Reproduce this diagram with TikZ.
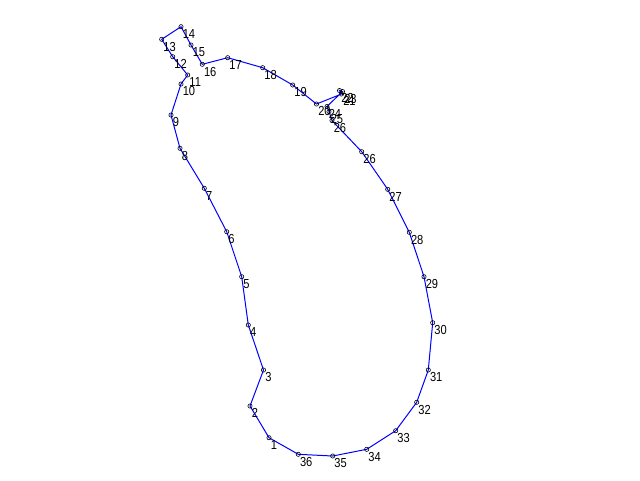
\documentclass[tikz,border=0pt]{standalone}
\usepackage{fontspec}
\setmainfont[FakeStretch=0.85]{Liberation Sans}
\begin{document}
\begin{tikzpicture}[x=0.75pt,y=-0.75pt,
  outline/.style={draw=blue,line width=0.75pt,line join=miter},
  marker/.style={circle,draw=black,line width=0.45pt,inner sep=0pt,minimum size=3.2pt},
  lbl/.style={anchor=north west,inner sep=0pt,font=\fontsize{9.8pt}{10pt}\selectfont,text=black}]
\useasboundingbox (0,0) rectangle (640,480);
\fill[white] (0,0) rectangle (640,480);
\foreach \n/\x/\y in {1/269/437.7,2/250/406,3/263.5/370,4/248.3/325,5/241.7/276.7,
  6/226.7/231.7,7/204.3/188.3,8/180/148.3,9/171/115,10/181/84,11/187.7/75,
  12/172.7/56.7,13/161.7/39.3,14/181/26.7,15/191/45,16/202.3/64.3,17/227.7/57.7,
  18/262.7/67.7,19/292.7/85,20/316.5/104,21/341.5/94,22/339.5/90.5,23/342.5/91.5,
  24/327/106.5,25/329/111.5,26/332/120.5,26b/361.7/151.7,27/387.7/189.3,
  28/409.3/232.3,29/424/276.7,30/432.7/322.7,31/428.3/370,32/416.7/402.3,
  33/395.7/430.7,34/366.7/449.3,35/332.7/456,36/298.3/454.3}
  {\coordinate (p\n) at (\x,\y);}
\draw[outline] (p1) -- (p2) -- (p3) -- (p4) -- (p5) -- (p6) -- (p7) -- (p8) -- (p9)
  -- (p10) -- (p11) -- (p12) -- (p13) -- (p14) -- (p15) -- (p16) -- (p17) -- (p18)
  -- (p19) -- (p20) -- (p21) -- (p22) -- (p23) -- (p24) -- (p25) -- (p26) -- (p26b)
  -- (p27) -- (p28) -- (p29) -- (p30) -- (p31) -- (p32) -- (p33) -- (p34) -- (p35)
  -- (p36) -- cycle;
\foreach \n/\t in {1/1,2/2,3/3,4/4,5/5,6/6,7/7,8/8,9/9,10/10,11/11,12/12,13/13,
  14/14,15/15,16/16,17/17,18/18,19/19,20/20,21/21,22/22,23/23,24/24,25/25,26/26,
  26b/26,27/27,28/28,29/29,30/30,31/31,32/32,33/33,34/34,35/35,36/36}
  {\node[marker] (m\n) at (p\n) {};
   \node[lbl] (l\n) at ([shift={(1.5,2.5)}]p\n) {\t};}
\end{tikzpicture}
\end{document}
